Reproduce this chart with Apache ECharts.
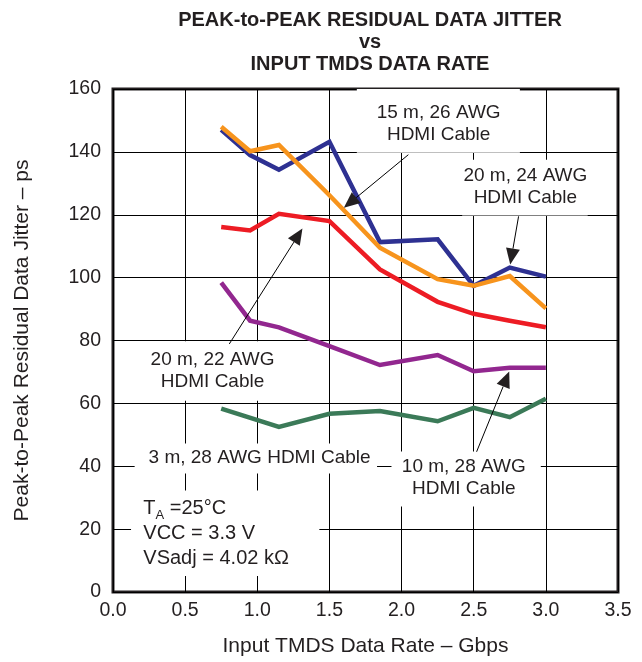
<!DOCTYPE html>
<html>
<head>
<meta charset="utf-8">
<script src="https://cdn.jsdelivr.net/npm/echarts@6/dist/echarts.min.js"></script>
<style>html,body{margin:0;padding:0;background:#fff}#c{width:642px;height:662px}</style>
</head>
<body>
<div id="c"></div>
<script>
// ---- data ----
const titleLines = ['PEAK-to-PEAK RESIDUAL DATA JITTER', 'vs', 'INPUT TMDS DATA RATE'];
const xName = 'Input TMDS Data Rate \u2013 Gbps';
const yName = 'Peak-to-Peak Residual Data Jitter \u2013 ps';
const xTicks = [0.0, 0.5, 1.0, 1.5, 2.0, 2.5, 3.0, 3.5];
const yTicks = [0, 20, 40, 60, 80, 100, 120, 140, 160];

const rates = [0.75, 0.95, 1.15, 1.5, 1.85, 2.25, 2.5, 2.75, 3.0];
const ratesGreen = [0.75, 1.15, 1.5, 1.85, 2.25, 2.5, 2.75, 3.0];

const cable20m24 = [147, 139, 134.3, 143.2, 111.3, 112.2, 97.4, 103.2, 100.3];
const cable15m26 = [148, 140.2, 142.2, 126.2, 109.5, 99.5, 97.4, 100.5, 90.2];
const cable20m22 = [116.1, 115, 120.3, 118, 102.6, 92.3, 88.5, 86.3, 84.2];
const cable10m28 = [98.4, 86.3, 84.2, 78.2, 72.2, 75.4, 70.2, 71.3, 71.3];
const cable3m28  = [58.3, 52.5, 56.7, 57.6, 54.3, 58.6, 55.6, 61.5];

const seriesNames = ['20 m, 24 AWG HDMI Cable', '15 m, 26 AWG HDMI Cable', '20 m, 22 AWG HDMI Cable', '10 m, 28 AWG HDMI Cable', '3 m, 28 AWG HDMI Cable'];

// ---- styles ----
const colors = ['#2e3192', '#f7941d', '#ed1c24', '#92278f', '#3b7a58'];
const TXT = '#231f20';
const FONT = '"Liberation Sans", Arial, sans-serif';

function pairs(xs, ys) { return xs.map((x, i) => [x, ys[i]]); }

const chart = echarts.init(document.getElementById('c'), null, { renderer: 'canvas' });

const dataSets = [
  pairs(rates, cable20m24),
  pairs(rates, cable15m26),
  pairs(rates, cable20m22),
  pairs(rates, cable10m28),
  pairs(ratesGreen, cable3m28)
];

chart.setOption({
  animation: false,
  backgroundColor: '#fff',
  title: {
    text: titleLines.join('\n'),
    left: 365, top: 4, textAlign: 'center',
    textStyle: { fontFamily: FONT, fontSize: 20, fontWeight: 'bold', color: TXT, lineHeight: 22 }
  },
  grid: { left: 113, right: 24, top: 89, bottom: 68, show: true, borderColor: TXT, borderWidth: 3, backgroundColor: 'transparent', z: 0 },
  xAxis: {
    type: 'value', min: xTicks[0], max: xTicks[xTicks.length - 1], interval: 0.5,
    name: xName, nameLocation: 'middle', nameGap: 44,
    nameTextStyle: { fontFamily: FONT, fontSize: 21, color: TXT },
    axisLine: { show: false }, axisTick: { show: false },
    axisLabel: { fontFamily: FONT, fontSize: 19.5, color: TXT, margin: 9, formatter: v => v.toFixed(1) },
    splitLine: { show: true, lineStyle: { color: '#000', width: 1 } }, z: 0
  },
  yAxis: {
    type: 'value', min: yTicks[0], max: yTicks[yTicks.length - 1], interval: 20,
    name: yName, nameLocation: 'middle', nameGap: 80,
    nameTextStyle: { fontFamily: FONT, fontSize: 21, color: TXT },
    axisLine: { show: false }, axisTick: { show: false },
    axisLabel: { fontFamily: FONT, fontSize: 19.5, color: TXT, margin: 12 },
    splitLine: { show: true, lineStyle: { color: '#000', width: 1 } }, z: 0
  },
  series: dataSets.map((d, i) => ({
    type: 'line', name: seriesNames[i], data: d, symbol: 'none', z: 2,
    lineStyle: { color: colors[i], width: 4.5, join: 'miter' }
  }))
});

// ---- annotations (in data units) ----
const boxes = [
  [1.69, 2.82, 139.7, 160],
  [2.42, 3.29, 119.8, 137.5],
  [0.24, 1.15, 60.8, 79.8],
  [0.15, 1.83, 37.7, 47.2],
  [1.93, 2.965, 27.2, 44.7],
  [0.125, 1.43, 5.1, 32.3]
];
const labels = [
  { t: '15 m, 26 AWG\nHDMI Cable', at: [2.257, 148.8] },
  { t: '20 m, 24 AWG\nHDMI Cable', at: [2.858, 129.0] },
  { t: '20 m, 22 AWG\nHDMI Cable', at: [0.69, 70.4] },
  { t: '3 m, 28 AWG HDMI Cable', at: [1.016, 42.8] },
  { t: '10 m, 28 AWG\nHDMI Cable', at: [2.431, 36.4] }
];
const arrows = [
  [[2.047, 139.1], [1.60, 122.2]],
  [[2.811, 119.5], [2.753, 104.2]],
  [[0.806, 78.9], [1.313, 115.6]],
  [[2.52, 44.6], [2.746, 70.1]]
];
const condAnchor = [0.21, 26.9];

const P = p => chart.convertToPixel({ gridIndex: 0 }, p);
const g = [];
boxes.forEach(b => {
  const a = P([b[0], b[3]]), c = P([b[1], b[2]]);
  g.push({ type: 'rect', z: 1, silent: true, shape: { x: a[0], y: a[1], width: c[0] - a[0], height: c[1] - a[1] }, style: { fill: '#fff' } });
});
labels.forEach(l => {
  const p = P(l.at);
  g.push({ type: 'text', z: 5, x: p[0], y: p[1], style: { text: l.t, fill: TXT, font: '19px ' + FONT, align: 'center', verticalAlign: 'middle', lineHeight: 22 } });
});
arrows.forEach(a => {
  const s = P(a[0]), e = P(a[1]);
  const dx = e[0] - s[0], dy = e[1] - s[1], L = Math.hypot(dx, dy);
  const ux = dx / L, uy = dy / L, hl = 16, hw = 7;
  const bx = e[0] - ux * hl, by = e[1] - uy * hl;
  g.push({ type: 'line', z: 5, shape: { x1: s[0], y1: s[1], x2: bx, y2: by }, style: { stroke: '#000', lineWidth: 1 } });
  g.push({ type: 'polygon', z: 5, shape: { points: [[e[0], e[1]], [bx - uy * hw, by + ux * hw], [bx + uy * hw, by - ux * hw]] }, style: { fill: '#231f20' } });
});
const ca = P(condAnchor);
g.push({
  type: 'text', z: 5, x: ca[0], y: ca[1] - 11,
  style: {
    text: '{m|T}{s|A}{m| =25\u00b0C}\n{m|VCC = 3.3 V}\n{m|VSadj = 4.02 k\u03a9}',
    fill: TXT, align: 'left', verticalAlign: 'top',
    rich: {
      m: { fontFamily: FONT, fontSize: 20, lineHeight: 25, fill: TXT, color: TXT },
      s: { fontFamily: FONT, fontSize: 13, lineHeight: 13, verticalAlign: 'bottom', fill: TXT, color: TXT }
    }
  }
});
chart.setOption({ graphic: g });
</script>
</body>
</html>
